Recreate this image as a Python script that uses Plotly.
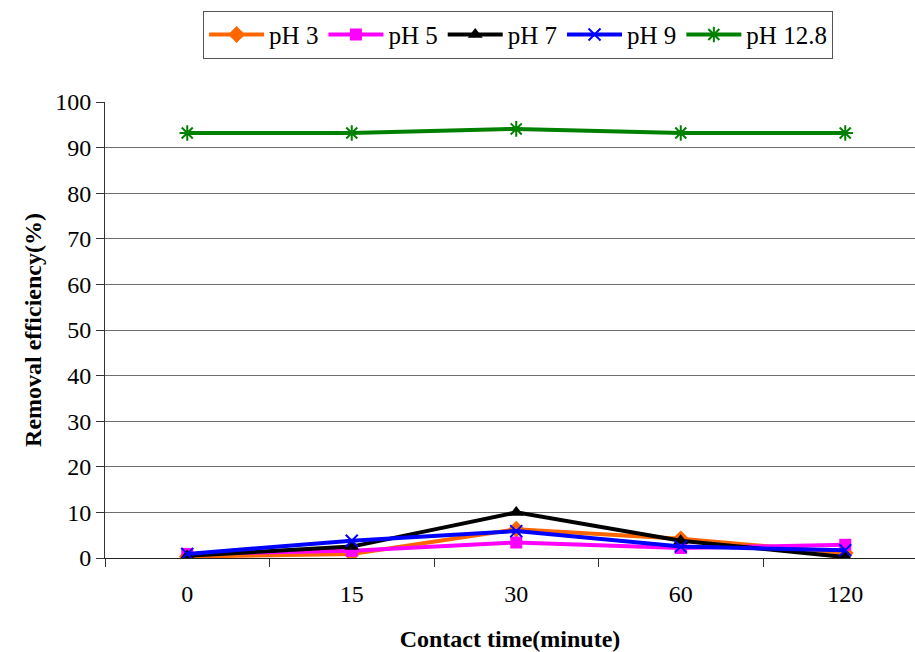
import plotly.graph_objects as go

# Contact time categories (minutes)
times = ["0", "15", "30", "60", "120"]

# Removal efficiency (%) per pH
ph3 = [0.3, 0.9, 6.3, 4.2, 1.1]
ph5 = [0.9, 1.6, 3.4, 2.2, 2.9]
ph7 = [0.5, 2.5, 10.0, 3.8, 0.2]
ph9 = [0.9, 3.8, 5.9, 2.5, 1.7]
ph12_8 = [93.2, 93.2, 94.1, 93.2, 93.2]

series = [
    ("pH 3", ph3, "#FF6600", "diamond", 13, None),
    ("pH 5", ph5, "#FF00FF", "square", 12, None),
    ("pH 7", ph7, "#000000", "triangle-up", 13, None),
    ("pH 9", ph9, "#0000FF", "x-thin", 12, 2),
    ("pH 12.8", ph12_8, "#008000", "asterisk", 13, 2),
]

fig = go.Figure()
for name, vals, color, symbol, size, lw in series:
    marker = dict(symbol=symbol, size=size, color=color)
    if lw:
        marker["line"] = dict(color=color, width=lw)
    fig.add_trace(go.Scatter(
        x=times, y=vals, name=name, mode="lines+markers",
        line=dict(color=color, width=4), marker=marker,
    ))

font_family = "Liberation Serif"

fig.update_layout(
    width=915, height=652,
    margin=dict(l=105, r=0, t=102, b=94),
    paper_bgcolor="white", plot_bgcolor="white",
    font=dict(family=font_family, size=24, color="black"),
    showlegend=True,
    legend=dict(
        orientation="h", x=0.51, xanchor="center", y=1.2, yanchor="top",
        bordercolor="#555555", borderwidth=1,
        font=dict(family=font_family, size=25),
        itemwidth=55, tracegroupgap=0,
    ),
    xaxis=dict(
        type="category", range=[-0.5, 4.424],
        showgrid=False, showline=True, linecolor="#222222", linewidth=1,
        ticks="outside", tickson="boundaries", ticklen=8, tickcolor="#333333",
        tickfont=dict(family=font_family, size=24), ticklabelstandoff=14,
        title=dict(text="<b>Contact time(minute)</b>",
                   font=dict(family=font_family, size=24), standoff=24),
        zeroline=False,
    ),
    yaxis=dict(
        range=[0, 100], dtick=10,
        showgrid=True, gridcolor="#6e6e6e", gridwidth=1,
        showline=True, linecolor="#333333", linewidth=1,
        ticks="outside", ticklen=8, tickcolor="#333333",
        tickfont=dict(family=font_family, size=24),
        title=dict(text="<b>Removal efficiency(%)</b>",
                   font=dict(family=font_family, size=24), standoff=6),
        zeroline=True, zerolinecolor="#222222", zerolinewidth=1,
    ),
)

fig.write_html("out.html")
